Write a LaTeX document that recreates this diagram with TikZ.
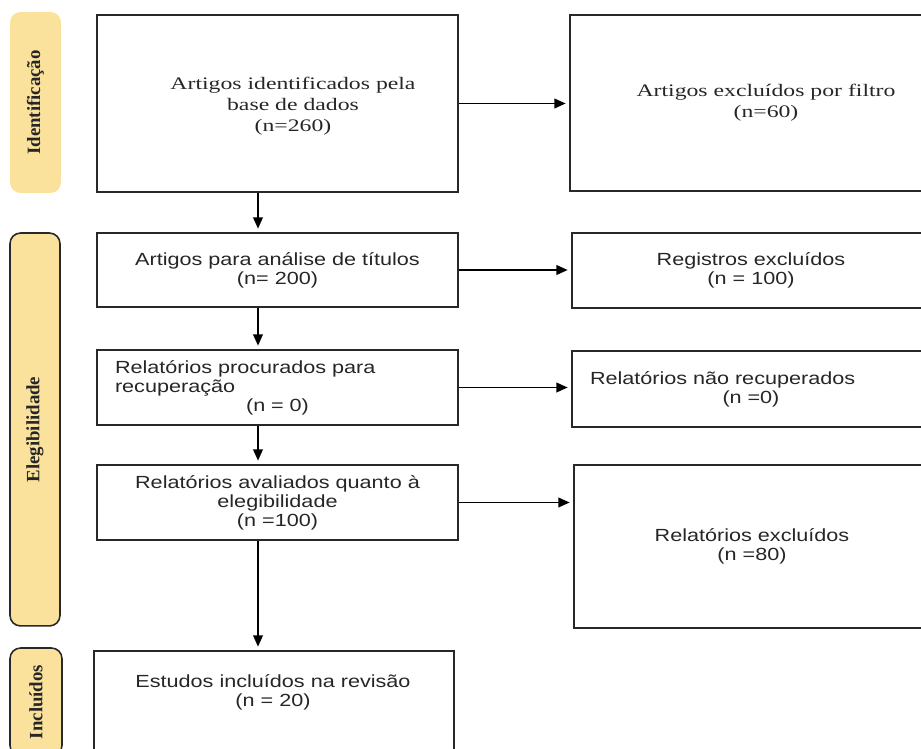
\documentclass[tikz,border=0pt]{standalone}
\usepackage{fontspec}
\setmainfont{Liberation Serif}
\newfontfamily\boxsans[FakeStretch=1.23]{Liberation Sans}
\newfontfamily\boxserif[FakeStretch=1.35]{Liberation Serif}
\usetikzlibrary{arrows.meta,positioning}
\definecolor{stagefill}{RGB}{250,226,156}
\definecolor{inkgray}{RGB}{40,40,40}

\begin{document}
\begin{tikzpicture}[x=0.02cm,y=-0.02cm,
box/.style={draw=inkgray,line width=0.9pt,align=center,text=black!85},
sans/.style={font=\boxsans\fontsize{10}{10.8}\selectfont},
serif/.style={font=\boxserif\fontsize{10}{12}\selectfont},
txt/.style={align=center,text=black!85},
stage/.style={rounded corners=6pt,fill=stagefill,rotate=90,line width=0.9pt,font=\bfseries\fontsize{10.7}{12}\selectfont,text=black!85},
arr/.style={-{Triangle[length=6.5pt,width=5.5pt]},line width=1.1pt,shorten >=2pt}]
\path[use as bounding box,clip] (0,0) rectangle (921,749);
\coordinate (spine) at (258,0);
% phase labels
\node[stage,draw=none,minimum width=3.62cm,minimum height=1.02cm] (sident) at (35.5,102.5) {Identificação};
\node[stage,draw=inkgray,minimum width=7.86cm,minimum height=1cm] (seleg) at (35,429.5) {Elegibilidade};
\node[stage,draw=inkgray,minimum width=2.16cm,minimum height=1.04cm] (sincl) at (36,702) {Incluídos};
% left column
\node[box,minimum width=7.22cm,minimum height=3.54cm] (ident) at (277.5,103.5) {};
\node[txt,serif] (identtxt) at (293,106) {Artigos identificados pela\\base de dados\\(n=260)};
\node[box,sans,minimum width=7.22cm,minimum height=1.48cm] (titulos) at (277.5,270) {Artigos para análise de títulos\\(n= 200)};
\node[box,sans,align=left,text width=6.5cm,inner xsep=0.36cm,minimum height=1.5cm] (procurados) at (277.5,387.5) {Relatórios procurados para\\recuperação\\\makebox[\hsize]{(n = 0)}};
\node[box,sans,minimum width=7.22cm,minimum height=1.5cm] (avaliados) at (277.5,502.5) {Relatórios avaliados quanto à\\elegibilidade\\(n =100)};
\node[box,minimum width=7.2cm,minimum height=2.18cm] (incluidos) at (274,705.5) {};
\node[txt,sans] (incltxt) at (273,692) {Estudos incluídos na revisão\\(n = 20)};
% right column
\node[box,serif,minimum width=7.84cm,minimum height=3.52cm] (filtro) at (766,103) {Artigos excluídos por filtro\\(n=60)};
\node[box,sans,minimum width=7.16cm,minimum height=1.5cm] (registros) at (751,270.5) {Registros excluídos\\(n = 100)};
\node[box,sans,align=left,text width=6.44cm,inner xsep=0.36cm,minimum height=1.52cm] (naorec) at (751,389) {Relatórios não recuperados\\\makebox[\hsize]{(n =0)}};
\node[box,sans,minimum width=7.12cm,minimum height=3.26cm] (excluidos) at (752,546.5) {Relatórios excluídos\\(n =80)};
% connectors
\draw[arr] (ident) -- (ident -| filtro.west);
\draw[arr] (titulos) -- (titulos -| registros.west);
\draw[arr] (procurados) -- (procurados -| naorec.west);
\draw[arr] (avaliados) -- (avaliados -| excluidos.west);
\draw[arr] (ident.south -| spine) -- (titulos.north -| spine);
\draw[arr] (titulos.south -| spine) -- (procurados.north -| spine);
\draw[arr] (procurados.south -| spine) -- (avaliados.north -| spine);
\draw[arr] (avaliados.south -| spine) -- (incluidos.north -| spine);
\end{tikzpicture}
\end{document}
